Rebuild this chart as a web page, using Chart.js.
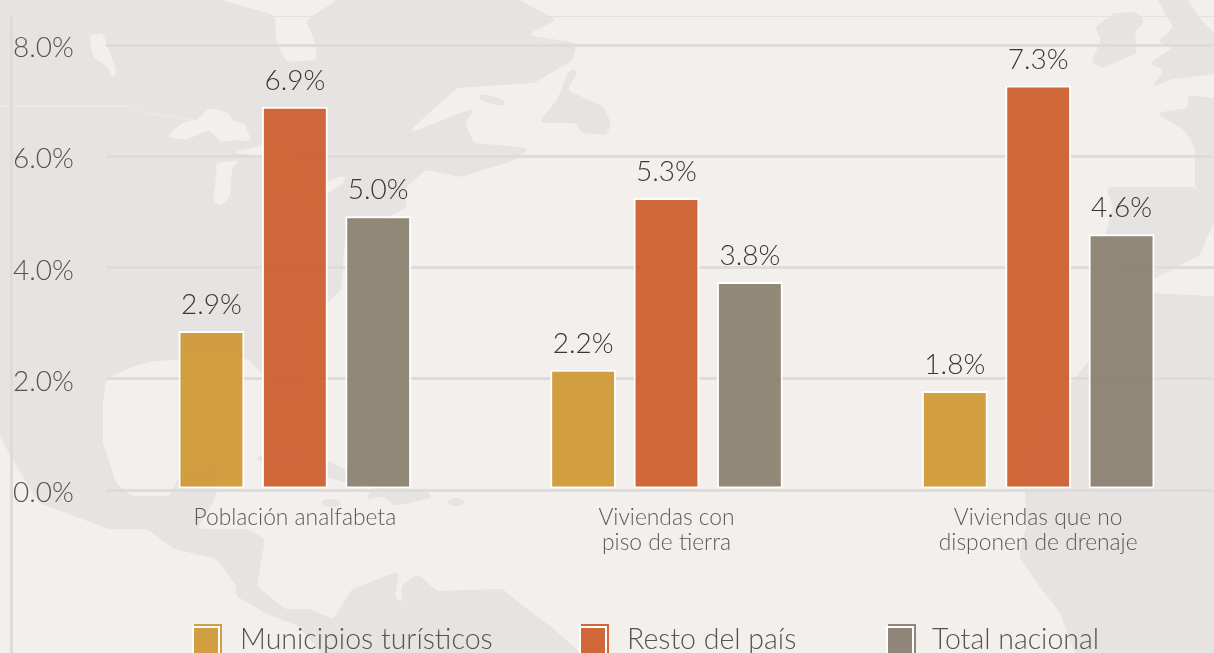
<!DOCTYPE html>
<html lang="es">
<head>
<meta charset="utf-8">
<title>Rezago social</title>
<script src="https://cdn.jsdelivr.net/npm/chart.js@4/dist/chart.umd.min.js"></script>
<style>
  html, body { margin: 0; padding: 0; width: 1214px; height: 653px; overflow: hidden; background: #f3efec; }
  #map, #frame, #chartBar, #legend { position: absolute; left: 0; top: 0; }
  #map { width: 1214px; height: 653px; }
  #map .land { fill: #e7e3e3; filter: url(#soft); }
  #map .water { fill: #f3efec; filter: url(#soft); }
  #frame { left: 10px; top: 16px; width: 1204px; height: 637px; box-sizing: border-box; border-left: 3px solid #dcdcda; border-top: 1px solid #e2e2df; }
  #legend { width: 1214px; height: 653px; overflow: hidden; font: 300 28.5px Lato, sans-serif; color: #565452; }
  .swatch { position: absolute; top: 624px; width: 28px; height: 29px; }
  .swatch i { position: absolute; left: -2px; top: 2px; width: 24px; height: 30px; border: 2px solid #fff; background: inherit; }
  .name { position: absolute; top: 622px; line-height: 32px; white-space: nowrap; }
</style>
</head>
<body>
<!-- mapa de fondo, solo decoracion -->
<svg id="map" viewBox="0 0 1214 653">
  <defs>
    <filter id="soft" x="-5%" y="-5%" width="110%" height="110%">
      <feGaussianBlur stdDeviation="2.2"/>
      <feComponentTransfer><feFuncA type="linear" slope="8" intercept="-3.5"/></feComponentTransfer>
    </filter>
  </defs>
  <polygon class="land" points="-20,-20 221,-20 221,0 275,15 276,40 286,62 317,60 315,43 306,20 337,0 337,-20 519,-20 519,0 557,20 526,35 577,43 573,60 534,83 457,88 405,135 476,107 465,123 474,143 530,148 515,160 461,177 426,170 406,187 406,208 345,240 341,290 310,320 298,406 290,419 271,383 248,359 194,359 155,361 135,366 106,379 103,403 103,443 116,483 132,496 170,496 182,469 221,463 215,499 197,529 248,529 265,539 257,586 285,609 310,609 333,619 352,589 399,571 395,596 403,606 401,586 418,574 437,591 503,589 519,603 550,626 581,653 581,670 321,670 321,653 298,626 267,614 236,596 236,586 217,559 174,549 147,529 108,529 74,516 39,503 12,459 0,436 -20,436"/>
  <polygon class="water" points="89,35 103,33 116,70 114,83 108,67 93,57"/>
  <polygon class="water" points="166,137 182,123 197,120 209,108 228,112 234,122 244,123 252,142 236,140 221,142 209,130 186,140"/>
  <polygon class="water" points="215,163 244,160 232,167 230,197 219,207 213,200 217,170"/>
  <polygon class="water" points="225,153 265,145 300,155 298,185 275,200 285,165 255,155"/>
  <polygon class="water" points="290,205 330,180 345,175 345,182 310,205"/>
  <polyline points="0,106 130,106 135,102 147,113 194,120" fill="none" stroke="#efebe9" stroke-width="1"/>
  <polygon class="land" points="538,123 557,100 569,70 579,70 567,90 604,107 611,123 607,135 581,133 577,123 557,123"/>
  <ellipse class="land" cx="492" cy="100" rx="15" ry="4" transform="rotate(15 492 100)"/>
  <polygon class="land" points="252,459 271,451 279,444 325,459 364,479 348,483 310,473"/>
  <polygon class="land" points="377,481 430,493 432,498 395,506 383,496 364,501"/>
  <ellipse class="land" cx="331" cy="503" rx="11" ry="4"/>
  <ellipse class="land" cx="456" cy="502" rx="10" ry="4"/>
  <polygon class="land" points="1095,27 1114,13 1137,12 1145,23 1135,30 1137,53 1103,68 1091,63 1101,40"/>
  <polygon class="land" points="1149,-20 1188,-20 1188,0 1199,17 1214,33 1230,33 1230,72 1168,80 1149,90 1164,70 1149,63 1174,47 1157,42 1174,27 1164,13"/>
  <polygon class="land" points="1155,113 1188,108 1188,95 1230,100 1230,205 1214,205 1195,187 1195,147 1184,130"/>
  <polygon class="land" points="1106,187 1195,187 1214,205 1230,205 1230,222 1214,222 1200,255 1158,277 1145,283 1120,270 1105,235 1113,207"/>
  <polygon class="land" points="1149,293 1230,297 1230,670 1075,670 1075,653 1060,613 1037,583 1019,556 1027,523 1025,493 1017,459 1071,383 1095,353 1099,326 1110,320"/>
</svg>
<div id="frame"></div>
<canvas id="chartBar" width="1240" height="653"></canvas>
<div id="legend"></div>
<script>
  // Datos
  const categories = [['Población analfabeta'], ['Viviendas con', 'piso de tierra'], ['Viviendas que no', 'disponen de drenaje']];
  const seriesNames = ['Municipios turísticos', 'Resto del país', 'Total nacional'];
  const turisticos = [2.86, 2.16, 1.78];
  const restoPais = [6.89, 5.25, 7.27];
  const totalNacional = [4.92, 3.74, 4.6];
  const turisticosLabels = ['2.9%', '2.2%', '1.8%'];
  const restoPaisLabels = ['6.9%', '5.3%', '7.3%'];
  const totalNacionalLabels = ['5.0%', '3.8%', '4.6%'];
  const yTicks = [0, 2, 4, 6, 8];

  const barFill = ['rgba(205,150,46,0.9)', 'rgba(204,89,39,0.9)', 'rgba(135,124,108,0.9)'];
  const legendFill = ['#d19f41', '#cf6738', '#8f8578'];
  const swatchLeft = [194, 581, 888];
  const nameLeft = [240, 627, 932];
  const FONT = 'Lato, sans-serif';

  // Etiquetas encima de cada barra
  const barLabels = {
    id: 'barLabels',
    afterDatasetsDraw(chart) {
      const ctx = chart.ctx;
      ctx.save();
      ctx.font = '300 28px ' + FONT;
      ctx.fillStyle = '#3a3836';
      ctx.textAlign = 'center';
      ctx.textBaseline = 'alphabetic';
      chart.data.datasets.forEach((ds, i) => {
        chart.getDatasetMeta(i).data.forEach((bar, j) => {
          ctx.fillText(ds.valueLabels[j], bar.x, bar.y - 17);
        });
      });
      ctx.restore();
    }
  };

  function makeDataset(name, values, valueLabels, color) {
    return {
      label: name,
      data: values,
      valueLabels: valueLabels,
      backgroundColor: color,
      borderColor: '#ffffff',
      borderWidth: 2,
      borderSkipped: false,
      categoryPercentage: 0.673,
      barPercentage: 0.79
    };
  }

  const chartBar = new Chart(document.getElementById('chartBar').getContext('2d'), {
    type: 'bar',
    data: {
      labels: categories,
      datasets: [
        makeDataset(seriesNames[0], turisticos, turisticosLabels, barFill[0]),
        makeDataset(seriesNames[1], restoPais, restoPaisLabels, barFill[1]),
        makeDataset(seriesNames[2], totalNacional, totalNacionalLabels, barFill[2])
      ]
    },
    options: {
      responsive: false,
      animation: false,
      layout: { padding: { left: 13, top: 45, right: 16, bottom: 0 } },
      plugins: { legend: { display: false }, tooltip: { enabled: false } },
      scales: {
        x: {
          afterFit(scale) { scale.height = 163; },
          grid: { display: false },
          border: { display: true, color: '#dcdcda', width: 3, z: 1 },
          ticks: {
            maxRotation: 0,
            autoSkip: false,
            padding: 7,
            color: '#5c5957',
            font: { family: FONT, size: 22.8, weight: 300, lineHeight: 1.1 }
          }
        },
        y: {
          min: 0,
          max: 8,
          afterFit(scale) { scale.width = 96; },
          afterBuildTicks(scale) { scale.ticks = yTicks.map(v => ({ value: v })); },
          grid: { color: '#dcdcda', lineWidth: 3, tickLength: 3, drawTicks: true },
          border: { display: false },
          ticks: {
            crossAlign: 'far',
            color: '#565452',
            padding: 0,
            labelOffset: 3,
            font: { family: FONT, size: 28, weight: 300 },
            callback: v => v.toFixed(1) + '%'
          }
        }
      }
    },
    plugins: [barLabels]
  });

  // Leyenda
  const legend = document.getElementById('legend');
  seriesNames.forEach((name, i) => {
    const sw = document.createElement('div');
    sw.className = 'swatch';
    sw.style.left = swatchLeft[i] + 'px';
    sw.style.background = legendFill[i];
    sw.appendChild(document.createElement('i'));
    legend.appendChild(sw);
    const txt = document.createElement('div');
    txt.className = 'name';
    txt.style.left = nameLeft[i] + 'px';
    txt.textContent = name;
    legend.appendChild(txt);
  });
</script>
</body>
</html>
